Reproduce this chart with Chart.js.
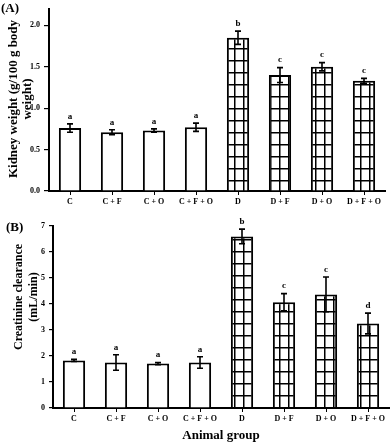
<!DOCTYPE html>
<html>
<head>
<meta charset="utf-8">
<script src="https://cdn.jsdelivr.net/npm/chart.js@4.4.1/dist/chart.umd.min.js"></script>
<style>
    body { margin: 0; background: #fff; width: 392px; height: 443px; overflow: hidden; position: relative; font-family: "Liberation Serif", serif; }
    .panel { position: absolute; left: 0; width: 392px; }
    #boxA { top: 0; height: 215px; }
    #boxB { top: 215px; height: 228px; }
    .tag { position: absolute; font-weight: bold; font-size: 13px; color: #000; }
    .ytitle { position: absolute; font-weight: bold; color: #000; text-align: center; white-space: nowrap;
              transform: translate(-50%, -50%) rotate(-90deg); }
</style>
</head>
<body>
<div class="panel" id="boxA"><canvas id="chartA" width="392" height="215"></canvas></div>
<div class="panel" id="boxB"><canvas id="chartB" width="392" height="228"></canvas></div>
<div class="tag" style="left:1px; top:0px;">(A)</div>
<div class="tag" style="left:6px; top:219px;">(B)</div>
<div class="ytitle" style="left:20px; top:99px; font-size:13px; line-height:14px;">Kidney weight (g/100 g body<br>weight)</div>
<div class="ytitle" style="left:26px; top:297px; font-size:12px; line-height:15px;">Creatinine clearance<br>(mL/min)</div>
<script>
const groups = ['C', 'C + F', 'C + O', 'C + F + O', 'D', 'D + F', 'D + O', 'D + F + O'];
const hatched = [false, false, false, false, true, true, true, true];

// (A) kidney weight
const kidneyWeight = [0.76, 0.71, 0.73, 0.77, 1.85, 1.40, 1.50, 1.33];
const kidneyErr = [0.05, 0.03, 0.02, 0.05, 0.08, 0.09, 0.05, 0.03];
const kidneyLetters = ['a', 'a', 'a', 'a', 'b', 'c', 'c', 'c'];
const kidneyTicks = [0, 0.5, 1.0, 1.5, 2.0];

// (B) creatinine clearance
const clearance = [1.83, 1.75, 1.71, 1.75, 6.60, 4.07, 4.37, 3.25];
const clearanceErr = [0.04, 0.30, 0.04, 0.22, 0.28, 0.33, 0.67, 0.40];
const clearanceLetters = ['a', 'a', 'a', 'a', 'b', 'c', 'c', 'd'];
const clearanceTicks = [0, 1, 2, 3, 4, 5, 6, 7];

const SERIF = '"Liberation Serif", "Times New Roman", serif';

function gridPattern(ctx) {
    const tile = document.createElement('canvas');
    tile.width = 9;
    tile.height = 12;
    const g = tile.getContext('2d');
    g.fillStyle = '#fff';
    g.fillRect(0, 0, 9, 12);
    g.fillStyle = '#000';
    g.fillRect(0, 0, 9, 1.5);
    g.fillRect(0, 0, 1.5, 12);
    return ctx.createPattern(tile, 'repeat');
}

// error bars + significance letters
const errorBars = {
    id: 'errorBars',
    afterDatasetsDraw(chart, args, opts) {
        const { ctx, scales: { x, y } } = chart;
        const vals = chart.data.datasets[0].data;
        ctx.save();
        ctx.strokeStyle = '#000';
        ctx.fillStyle = '#000';
        ctx.lineWidth = 1.6;
        ctx.font = 'bold 9px ' + SERIF;
        ctx.textAlign = 'center';
        ctx.textBaseline = 'bottom';
        vals.forEach((v, i) => {
            const px = x.getPixelForValue(i);
            const top = y.getPixelForValue(v + opts.err[i]);
            const bot = y.getPixelForValue(v - opts.err[i]);
            ctx.beginPath();
            ctx.moveTo(px, top); ctx.lineTo(px, bot);
            ctx.moveTo(px - 3, top); ctx.lineTo(px + 3, top);
            ctx.moveTo(px - 3, bot); ctx.lineTo(px + 3, bot);
            ctx.stroke();
            ctx.fillText(opts.letters[i], px, top - 3);
        });
        ctx.restore();
    }
};

function makeChart(id, values, err, letters, ticks, cfg) {
    const ctx = document.getElementById(id).getContext('2d');
    const pattern = gridPattern(ctx);
    return new Chart(ctx, {
        type: 'bar',
        data: {
            labels: groups,
            datasets: [{
                data: values,
                backgroundColor: hatched.map(h => h ? pattern : '#fff'),
                borderColor: '#000',
                borderWidth: 2,
                barPercentage: 0.53,
                categoryPercentage: 1
            }]
        },
        options: {
            responsive: false,
            animation: false,
            layout: { padding: cfg.padding },
            plugins: {
                legend: { display: false },
                tooltip: { enabled: false },
                errorBars: { err, letters }
            },
            scales: {
                x: {
                    offset: true,
                    grid: { offset: false, drawOnChartArea: false, tickLength: 4, color: '#000', lineWidth: 1 },
                    border: { color: '#000', width: 2 },
                    ticks: { color: '#000', font: { family: SERIF, size: 8, weight: 'bold' }, maxRotation: 0, autoSkip: false, padding: 2 },
                    title: cfg.xTitle ? { display: true, text: cfg.xTitle, color: '#000', font: { family: SERIF, size: 13, weight: 'bold' }, padding: 0 } : { display: false },
                    afterFit: s => { s.height = cfg.xHeight; }
                },
                y: {
                    min: 0,
                    max: cfg.yMax,
                    afterBuildTicks: s => { s.ticks = ticks.map(v => ({ value: v })); },
                    grid: { drawOnChartArea: false, tickLength: cfg.tickLen, color: '#000', lineWidth: 1.2 },
                    border: { color: '#000', width: 2 },
                    ticks: {
                        color: '#000',
                        padding: cfg.tickPad,
                        font: { family: SERIF, size: 8, weight: 'bold' },
                        callback: v => Number(v).toFixed(cfg.decimals)
                    },
                    afterFit: s => { s.width = cfg.yWidth; }
                }
            }
        },
        plugins: [errorBars]
    });
}

makeChart('chartA', kidneyWeight, kidneyErr, kidneyLetters, kidneyTicks, {
    yMax: 2.2, decimals: 1, tickPad: 4, tickLen: 5,
    xTitle: null,
    yWidth: 49, xHeight: 24,
    padding: { top: 8, right: 7, left: 0, bottom: 0 }
});

makeChart('chartB', clearance, clearanceErr, clearanceLetters, clearanceTicks, {
    yMax: 7, decimals: 0, tickPad: 4, tickLen: 4,
    xTitle: 'Animal group',
    yWidth: 53, xHeight: 35,
    padding: { top: 11, right: 3, left: 0, bottom: 0 }
});
</script>
</body>
</html>
